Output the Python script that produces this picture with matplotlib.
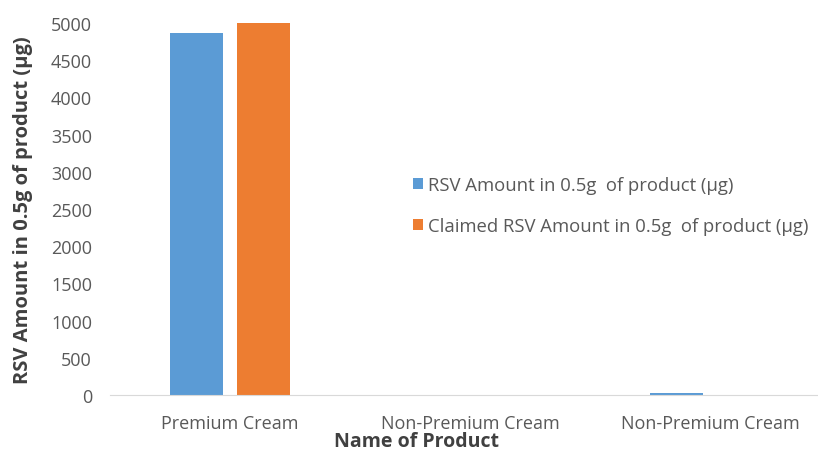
import matplotlib.pyplot as plt
import numpy as np

categories = ["Premium Cream", "Non-Premium Cream", "Non-Premium Cream"]
measured = [4866, 0, 25]
claimed = [5000, 0, 0]
series_names = ["RSV Amount in 0.5g  of product (µg)",
                "Claimed RSV Amount in 0.5g  of product (µg)"]
y_ticks = list(range(0, 5001, 500))

plt.rcParams['font.family'] = ['Open Sans', 'DejaVu Sans']

fig = plt.figure(figsize=(8.18, 4.52), dpi=100)
W, H = 818, 452
ax = fig.add_axes([110 / W, (H - 396) / H, (818 - 110) / W, (396 - 24) / H])

x = np.arange(len(categories))
bw = 0.222
off = 0.14
blue = "#5b9bd5"
orange = "#ed7d31"
ax.bar(x - off, measured, bw, color=blue, label=series_names[0], zorder=2)
ax.bar(x + off, claimed, bw, color=orange, label=series_names[1], zorder=2)

ax.set_xlim(-0.5, 708 / 240 - 0.5)
ax.set_ylim(0, 5000)
ax.set_yticks(y_ticks)
ax.set_xticks(x)
ax.set_xticklabels(categories)
ax.tick_params(axis='both', length=0, labelsize=13, colors="#595959")
ax.tick_params(axis='x', pad=14)
ax.tick_params(axis='y', pad=13)
for s in ["top", "right", "left"]:
    ax.spines[s].set_visible(False)
ax.spines["bottom"].set_color("#d9d9d9")

ax.set_ylabel("RSV Amount in 0.5g of product (µg)", fontsize=14.5,
              fontweight='bold', color="#404040")
ax.yaxis.set_label_coords(-(110 - 33) / 708, (396 - 210) / 372)
ax.set_xlabel("Name of Product", fontsize=14, fontweight='bold', color="#404040")
ax.xaxis.set_label_coords((416 - 110) / 708, -(432 - 396) / 372)

leg = ax.legend(loc='upper left', bbox_to_anchor=((396 - 110) / 708, (396 - 160) / 372),
                frameon=False, fontsize=13.3, handlelength=0.55, handleheight=0.55,
                handletextpad=0.3, labelspacing=1.25, labelcolor="#595959")

fig.savefig("out.png", dpi=100)
